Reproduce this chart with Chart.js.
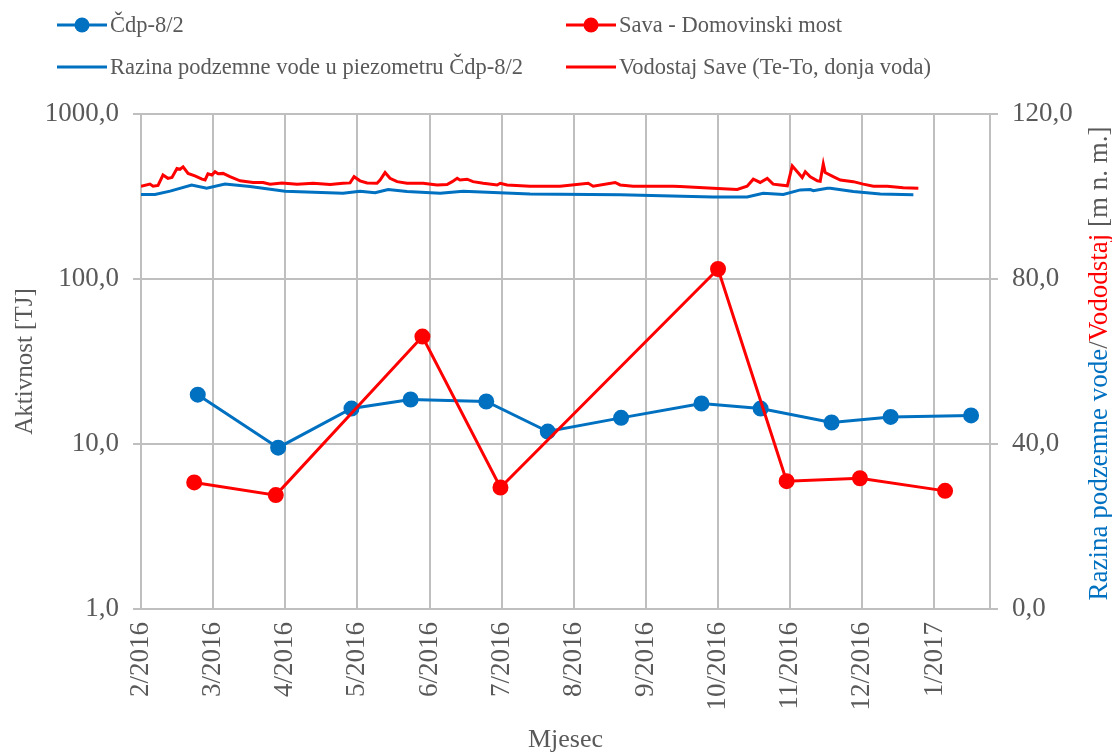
<!DOCTYPE html>
<html>
<head>
<meta charset="utf-8">
<script src="https://cdn.jsdelivr.net/npm/chart.js@4.4.1/dist/chart.umd.min.js"></script>
<style>
  html, body { margin: 0; padding: 0; background: #fff; }
  #wrap { width: 1112px; height: 754px; }
</style>
</head>
<body>
<div id="wrap"><canvas id="chart" width="1112" height="754"></canvas></div>
<script>
// x values are days counted from 1 Feb 2016
const tickDays = [0, 30.5, 61, 91.5, 122, 152.5, 183, 213.5, 244, 274.5, 305, 335.5];
const tickLabels = ["2/2016", "3/2016", "4/2016", "5/2016", "6/2016", "7/2016",
  "8/2016", "9/2016", "10/2016", "11/2016", "12/2016", "1/2017"];
const activityTicks = [1, 10, 100, 1000];
const levelTicks = [0, 40, 80, 120];

// Aktivnost [TJ]
const cdpDays = [24, 58, 89, 114, 146, 172, 203, 237, 262, 292, 317, 351];
const cdpValues = [19.9, 9.5, 16.4, 18.6, 18.1, 11.9, 14.4, 17.6, 16.4, 13.5, 14.6, 14.9];
const savaDays = [22.5, 57, 119, 152, 244, 273, 304, 340];
const savaValues = [5.85, 4.9, 44.8, 5.45, 115, 5.95, 6.2, 5.2];

// Razina podzemne vode u piezometru Čdp-8/2 [m n. m.]
const gwDays = [0, 5.9, 12.3, 21.4, 27.8, 35.5, 46.1, 60.9, 85.4, 92.6, 99, 104.5, 112.5,
  126.5, 136.2, 164.5, 202.6, 241.9, 256.3, 263.1, 271.6, 278.8, 283, 284.3, 290.2, 291.5,
  301.2, 312.6, 326.6];
const gwLevels = [100.5, 100.5, 101.3, 102.8, 102.0, 103.0, 102.4, 101.3, 100.8, 101.3, 100.9,
  101.7, 101.2, 100.8, 101.3, 100.6, 100.4, 99.9, 99.9, 100.8, 100.5, 101.6, 101.7, 101.4,
  102.0, 102.0, 101.2, 100.6, 100.4];

// Vodostaj Save (Te-To, donja voda) [m n. m.]
const riverDays = [0, 3.8, 5.1, 7.2, 9.3, 11.4, 13.1, 15.2, 16.5, 17.8, 19.9, 22.8, 25.8, 27.1,
  28.3, 30, 31.3, 32.6, 34.7, 37.6, 41.9, 47.4, 51.6, 54.6, 59.6, 66, 72.8, 80, 85.4, 88.4,
  90.1, 92.6, 95.6, 99.8, 101.1, 103.2, 105.3, 108.3, 112.5, 119.3, 125.2, 129.4, 131.6,
  133.7, 134.9, 137.9, 140.4, 144.7, 150.6, 151.9, 154.8, 164.5, 177.2, 189.1, 191.2, 200.5,
  202.6, 208.1, 225, 228, 241.9, 252.1, 256.3, 258.9, 261.8, 264.8, 267.3, 270.3, 273.3,
  275.4, 277.5, 279.6, 280.9, 283, 286, 287.2, 288.5, 289.3, 292.7, 295.7, 301.2, 305.4,
  309.7, 315.6, 322.3, 328.7];
const riverLevels = [102.5, 103.0, 102.5, 102.7, 105.2, 104.4, 104.6, 106.8, 106.6, 107.2, 105.6,
  105.0, 104.2, 104.0, 105.5, 105.2, 106.0, 105.5, 105.6, 104.8, 103.8, 103.4, 103.4, 103.0,
  103.3, 103.0, 103.2, 102.9, 103.2, 103.3, 104.8, 103.8, 103.3, 103.2, 104.0, 105.8, 104.4,
  103.6, 103.2, 103.2, 102.8, 102.9, 103.6, 104.4, 104.0, 104.2, 103.6, 103.2, 102.8, 103.2,
  102.8, 102.5, 102.5, 103.2, 102.5, 103.4, 102.8, 102.5, 102.5, 102.4, 102.0, 101.7, 102.5,
  104.2, 103.4, 104.4, 103.0, 102.8, 102.6, 107.4, 106.0, 104.6, 106.0, 104.8, 103.8, 103.7,
  107.9, 105.8, 104.8, 104.0, 103.6, 103.0, 102.5, 102.5, 102.1, 102.0];

const BLUE = "#0070C0";
const RED = "#FF0000";
const GREY = "#595959";
const GRID = "#BFBFBF";
const FONT = "'Liberation Serif', 'Times New Roman', serif";

const toPoints = (xs, ys) => xs.map((x, i) => ({ x: x, y: ys[i] }));
const fmt = (v) => Number(v).toFixed(1).replace(".", ",");

// legend slots: dataset index -> where it goes
const legendSlots = [
  { ds: 1, x: 57, y: 25, marker: true },
  { ds: 3, x: 57, y: 67, marker: false },
  { ds: 0, x: 566, y: 25, marker: true },
  { ds: 2, x: 566, y: 67, marker: false },
];

const legendBox = {
  id: "legendBox",
  afterDraw(chart) {
    const ctx = chart.ctx;
    ctx.save();
    ctx.font = "22.5px " + FONT;
    ctx.textBaseline = "middle";
    legendSlots.forEach((slot) => {
      const ds = chart.data.datasets[slot.ds];
      ctx.strokeStyle = ds.borderColor;
      ctx.lineWidth = 3;
      ctx.beginPath();
      ctx.moveTo(slot.x, slot.y);
      ctx.lineTo(slot.x + 50, slot.y);
      ctx.stroke();
      if (slot.marker) {
        ctx.fillStyle = ds.borderColor;
        ctx.beginPath();
        ctx.arc(slot.x + 25, slot.y, 7.5, 0, Math.PI * 2);
        ctx.fill();
      }
      ctx.fillStyle = GREY;
      ctx.fillText(ds.label, slot.x + 53, slot.y + 1);
    });
    ctx.restore();
  },
};

// right axis title has three colours, so it is drawn by hand
const rightTitle = {
  id: "rightTitle",
  afterDraw(chart) {
    const { ctx, chartArea } = chart;
    const parts = [
      ["Razina podzemne vode", BLUE],
      ["/", GREY],
      ["Vododstaj", RED],
      [" [m n. m.]", GREY],
    ];
    ctx.save();
    ctx.font = "27px " + FONT;
    ctx.textBaseline = "middle";
    const total = parts.reduce((s, p) => s + ctx.measureText(p[0]).width, 0);
    ctx.translate(1100, (chartArea.top + chartArea.bottom) / 2 + 2);
    ctx.rotate(-Math.PI / 2);
    let x = -total / 2;
    parts.forEach(([t, c]) => {
      ctx.fillStyle = c;
      ctx.fillText(t, x, 0);
      x += ctx.measureText(t).width;
    });
    ctx.restore();
  },
};

new Chart(document.getElementById("chart").getContext("2d"), {
  type: "line",
  data: {
    datasets: [
      {
        label: "Sava - Domovinski most",
        data: toPoints(savaDays, savaValues),
        yAxisID: "y",
        borderColor: RED,
        backgroundColor: RED,
        borderWidth: 3,
        pointRadius: 7,
        pointBorderWidth: 2,
        pointHoverRadius: 7,
        order: 0,
      },
      {
        label: "Čdp-8/2",
        data: toPoints(cdpDays, cdpValues),
        yAxisID: "y",
        borderColor: BLUE,
        backgroundColor: BLUE,
        borderWidth: 3,
        pointRadius: 7,
        pointBorderWidth: 2,
        pointHoverRadius: 7,
        order: 1,
      },
      {
        label: "Vodostaj Save (Te-To, donja voda)",
        data: toPoints(riverDays, riverLevels),
        yAxisID: "y2",
        borderColor: RED,
        borderWidth: 3,
        pointRadius: 0,
        order: 2,
      },
      {
        label: "Razina podzemne vode u piezometru Čdp-8/2",
        data: toPoints(gwDays, gwLevels),
        yAxisID: "y2",
        borderColor: BLUE,
        borderWidth: 3,
        pointRadius: 0,
        order: 3,
      },
    ],
  },
  options: {
    responsive: false,
    animation: false,
    layout: { padding: { top: 114, left: 0, right: 0, bottom: 0 } },
    plugins: {
      legend: { display: false },
      tooltip: { enabled: false },
    },
    scales: {
      x: {
        type: "linear",
        min: 0,
        max: 359,
        afterBuildTicks: (s) => { s.ticks = tickDays.map((v) => ({ value: v })); },
        afterFit: (s) => { s.height = 145; },
        ticks: {
          color: GREY,
          font: { family: FONT, size: 27 },
          padding: 13,
          minRotation: 90,
          maxRotation: 90,
          callback: (v) => tickLabels[tickDays.indexOf(v)],
        },
        grid: { color: GRID, lineWidth: 2, drawTicks: false },
        border: { color: GRID, width: 2 },
        title: {
          display: true,
          text: "Mjesec",
          color: GREY,
          font: { family: FONT, size: 26, lineHeight: 1.1 },
          padding: { top: 0, bottom: 0 },
        },
      },
      y: {
        type: "logarithmic",
        position: "left",
        min: 1,
        max: 1000,
        afterBuildTicks: (s) => { s.ticks = activityTicks.map((v) => ({ value: v })); },
        afterFit: (s) => { s.width = 141; },
        ticks: {
          color: GREY,
          font: { family: FONT, size: 27 },
          padding: 14,
          callback: fmt,
        },
        grid: { color: GRID, lineWidth: 2, tickLength: 8 },
        border: { color: GRID, width: 2 },
        title: {
          display: true,
          text: "Aktivnost [TJ]",
          color: GREY,
          font: { family: FONT, size: 25, lineHeight: 1.1 },
          padding: { top: 12, bottom: 0 },
        },
      },
      y2: {
        type: "linear",
        position: "right",
        min: 0,
        max: 120,
        afterBuildTicks: (s) => { s.ticks = levelTicks.map((v) => ({ value: v })); },
        afterFit: (s) => { s.width = 122; },
        ticks: {
          color: GREY,
          font: { family: FONT, size: 27 },
          padding: 14,
          callback: fmt,
        },
        grid: { color: GRID, lineWidth: 2, tickLength: 8, drawOnChartArea: false },
        border: { color: GRID, width: 2 },
      },
    },
  },
  plugins: [legendBox, rightTitle],
});
</script>
</body>
</html>
